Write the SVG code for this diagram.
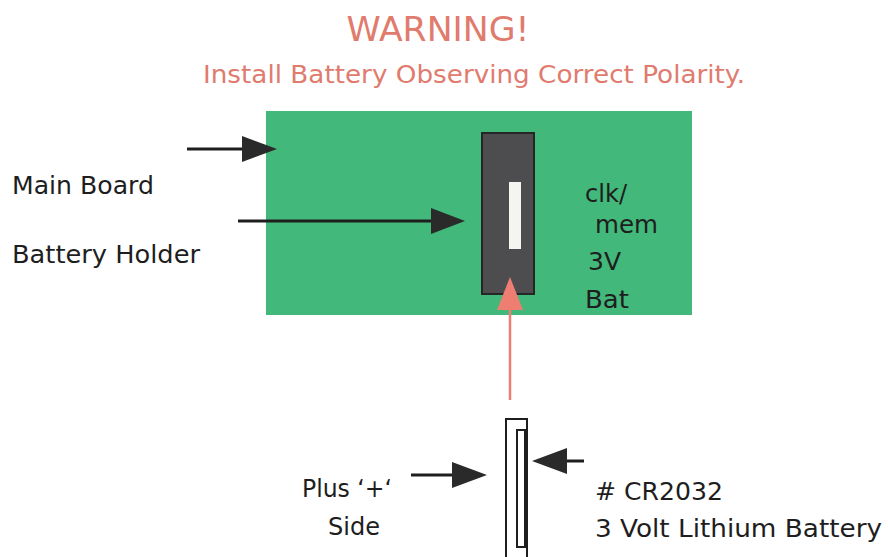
<svg xmlns="http://www.w3.org/2000/svg" width="888" height="557" viewBox="0 0 888 557">
<style>
.t{font-family:"DejaVu Sans","Liberation Sans",sans-serif;fill:#1e1e1e}
.r{font-family:"DejaVu Sans","Liberation Sans",sans-serif;fill:#e07b6e}
.blk{stroke:#1e1e1e;stroke-width:3;fill:none}
.hb{fill:#2a2a2a}
</style>
<rect width="888" height="557" fill="#ffffff"/>
<g id="title">
<text class="r" x="438" y="41" font-size="33" text-anchor="middle" textLength="183" lengthAdjust="spacingAndGlyphs">WARNING!</text>
<text class="r" x="474" y="83" font-size="24" text-anchor="middle" textLength="542" lengthAdjust="spacingAndGlyphs">Install Battery Observing Correct Polarity.</text>
</g>
<g id="main-board">
<rect x="266" y="111" width="426" height="204" fill="#42b87a"/>
</g>
<g id="battery-holder">
<rect x="482" y="133" width="52" height="161" fill="#4d4d4f" stroke="#262626" stroke-width="2"/>
<rect x="509" y="182" width="12" height="67" fill="#f4f4f0"/>
</g>
<g id="holder-label">
<text class="t" x="585" y="202" font-size="25" textLength="42" lengthAdjust="spacingAndGlyphs">clk/</text>
<text class="t" x="595" y="233" font-size="25" textLength="63" lengthAdjust="spacingAndGlyphs">mem</text>
<text class="t" x="588" y="270" font-size="25" textLength="33" lengthAdjust="spacingAndGlyphs">3V</text>
<text class="t" x="585" y="308" font-size="25" textLength="44" lengthAdjust="spacingAndGlyphs">Bat</text>
</g>
<g id="labels-left">
<text class="t" x="12" y="194" font-size="25" textLength="142" lengthAdjust="spacingAndGlyphs">Main Board</text>
<text class="t" x="12" y="263" font-size="25" textLength="188" lengthAdjust="spacingAndGlyphs">Battery Holder</text>
</g>
<g id="battery">
<rect x="506" y="419" width="21" height="145" fill="#ffffff" stroke="#1e1e1e" stroke-width="2"/>
<rect x="517" y="430" width="8" height="117" fill="#ffffff" stroke="#1e1e1e" stroke-width="2"/>
</g>
<g id="battery-labels">
<text class="t" x="302" y="497" font-size="25" textLength="90" lengthAdjust="spacingAndGlyphs">Plus ‘+‘</text>
<text class="t" x="328" y="535" font-size="25" textLength="52" lengthAdjust="spacingAndGlyphs">Side</text>
<text class="t" x="595" y="500" font-size="25" textLength="128" lengthAdjust="spacingAndGlyphs"># CR2032</text>
<text class="t" x="595" y="537" font-size="25" textLength="287" lengthAdjust="spacingAndGlyphs">3 Volt Lithium Battery</text>
</g>
<g id="connectors">
<line class="blk" x1="187" y1="149" x2="244" y2="149"/>
<polygon class="hb" points="242,136 277,149 242,162"/>
<line class="blk" x1="238" y1="221" x2="433" y2="221"/>
<polygon class="hb" points="431,208 465,221 431,234"/>
<line x1="510" y1="308" x2="510" y2="400" stroke="#ee7d72" stroke-width="2.5"/>
<polygon points="497,310 510,277 523,310" fill="#ee7d72"/>
<line class="blk" x1="411" y1="475" x2="454" y2="475"/>
<polygon class="hb" points="452,462 487,475 452,488"/>
<line class="blk" x1="565" y1="461" x2="584" y2="461"/>
<polygon class="hb" points="567,448 532,461 567,474"/>
</g>
</svg>
